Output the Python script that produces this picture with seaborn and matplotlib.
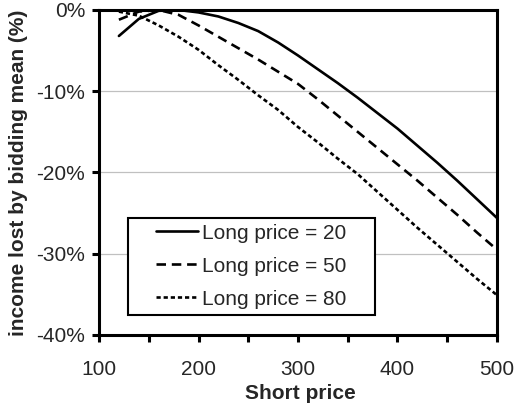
import matplotlib
matplotlib.use("Agg")
import matplotlib.pyplot as plt
from matplotlib.patches import Rectangle
from matplotlib.ticker import MultipleLocator, PercentFormatter
import pandas
import seaborn

SHORT_PRICE = [120, 140, 160, 180, 200, 220, 240, 260, 280, 300,
               320, 340, 360, 380, 400, 420, 440, 460, 480, 500]

# income lost (%) for each long price
LOSS_20 = [-3.2, -1.1, -0.1, 0.0, -0.3, -0.8, -1.6, -2.6, -4.0, -5.6,
           -7.3, -9.0, -10.8, -12.7, -14.6, -16.7, -18.8, -21.0, -23.3, -25.6]
LOSS_50 = [-1.2, -0.2, 0.0, -0.6, -1.9, -3.3, -4.7, -6.1, -7.6, -9.1,
           -11.0, -13.0, -15.0, -17.0, -19.0, -21.0, -23.1, -25.2, -27.4, -29.5]
LOSS_80 = [-0.2, -0.7, -1.9, -3.3, -4.9, -6.8, -8.6, -10.5, -12.3, -14.4,
           -16.3, -18.3, -20.2, -22.4, -24.6, -26.8, -28.9, -31.0, -33.1, -35.1]

SERIES = {
    "Long price = 20": LOSS_20,
    "Long price = 50": LOSS_50,
    "Long price = 80": LOSS_80,
}

DASHES = {
    "Long price = 20": "",
    "Long price = 50": (3.6, 2.2),
    "Long price = 80": (1.6, 1.1),
}
PALETTE = {k: "black" for k in SERIES}
FS = 15

seaborn.set_style("white")
plt.rcParams["font.family"] = ["Liberation Sans", "DejaVu Sans"]
plt.rcParams["axes.unicode_minus"] = False

rows = []
for name, values in SERIES.items():
    for x, y in zip(SHORT_PRICE, values):
        rows.append([x, name, y])
df = pandas.DataFrame(rows, columns=["short", "series", "loss"])

fig = plt.figure(figsize=(5.17, 4.09), dpi=100)
ax = fig.add_axes([0.1915, 0.181, 0.7698, 0.7946])

seaborn.lineplot(data=df, x="short", y="loss", hue="series", style="series",
                 palette=PALETTE, dashes=DASHES, linewidth=1.9, ax=ax,
                 legend=True)

ax.set_xlim(100, 500)
ax.set_ylim(-40, 0)
ax.xaxis.set_major_locator(MultipleLocator(100))
ax.xaxis.set_minor_locator(MultipleLocator(50))
ax.yaxis.set_major_locator(MultipleLocator(10))
ax.yaxis.set_major_formatter(PercentFormatter(decimals=0))
ax.grid(True, axis="y", color="#c0c0c0", linewidth=0.9)
ax.set_axisbelow(True)

for sp in ax.spines.values():
    sp.set_color("black")
    sp.set_linewidth(2.2)

ax.tick_params(axis="both", which="both", direction="out", length=5,
               width=2.2, color="black", labelsize=FS)
ax.tick_params(axis="x", which="both", pad=13, bottom=True)
ax.tick_params(axis="y", pad=5, left=True)

ax.set_xlabel("Short price", fontsize=FS, fontweight="bold")
ax.set_ylabel("income lost by bidding mean (%)", fontsize=FS, fontweight="bold")
ax.xaxis.set_label_coords(0.505, -0.152)
ax.yaxis.set_label_coords(-0.178, 0.5)

# legend box drawn separately so its padding matches the original
ax.add_patch(Rectangle((0.073, 0.0615), 0.62, 0.2985, transform=ax.transAxes,
                       facecolor="white", edgecolor="black", linewidth=1.5,
                       zorder=4))
handles, labels = ax.get_legend_handles_labels()
leg = ax.legend(handles, labels, loc="center left",
                bbox_to_anchor=(0.143, 0.212), borderaxespad=0, borderpad=0,
                fontsize=FS, handlelength=2.0, handletextpad=0.2,
                labelspacing=0.67, frameon=False)
leg.set_zorder(5)

fig.savefig("out.png", dpi=100)
